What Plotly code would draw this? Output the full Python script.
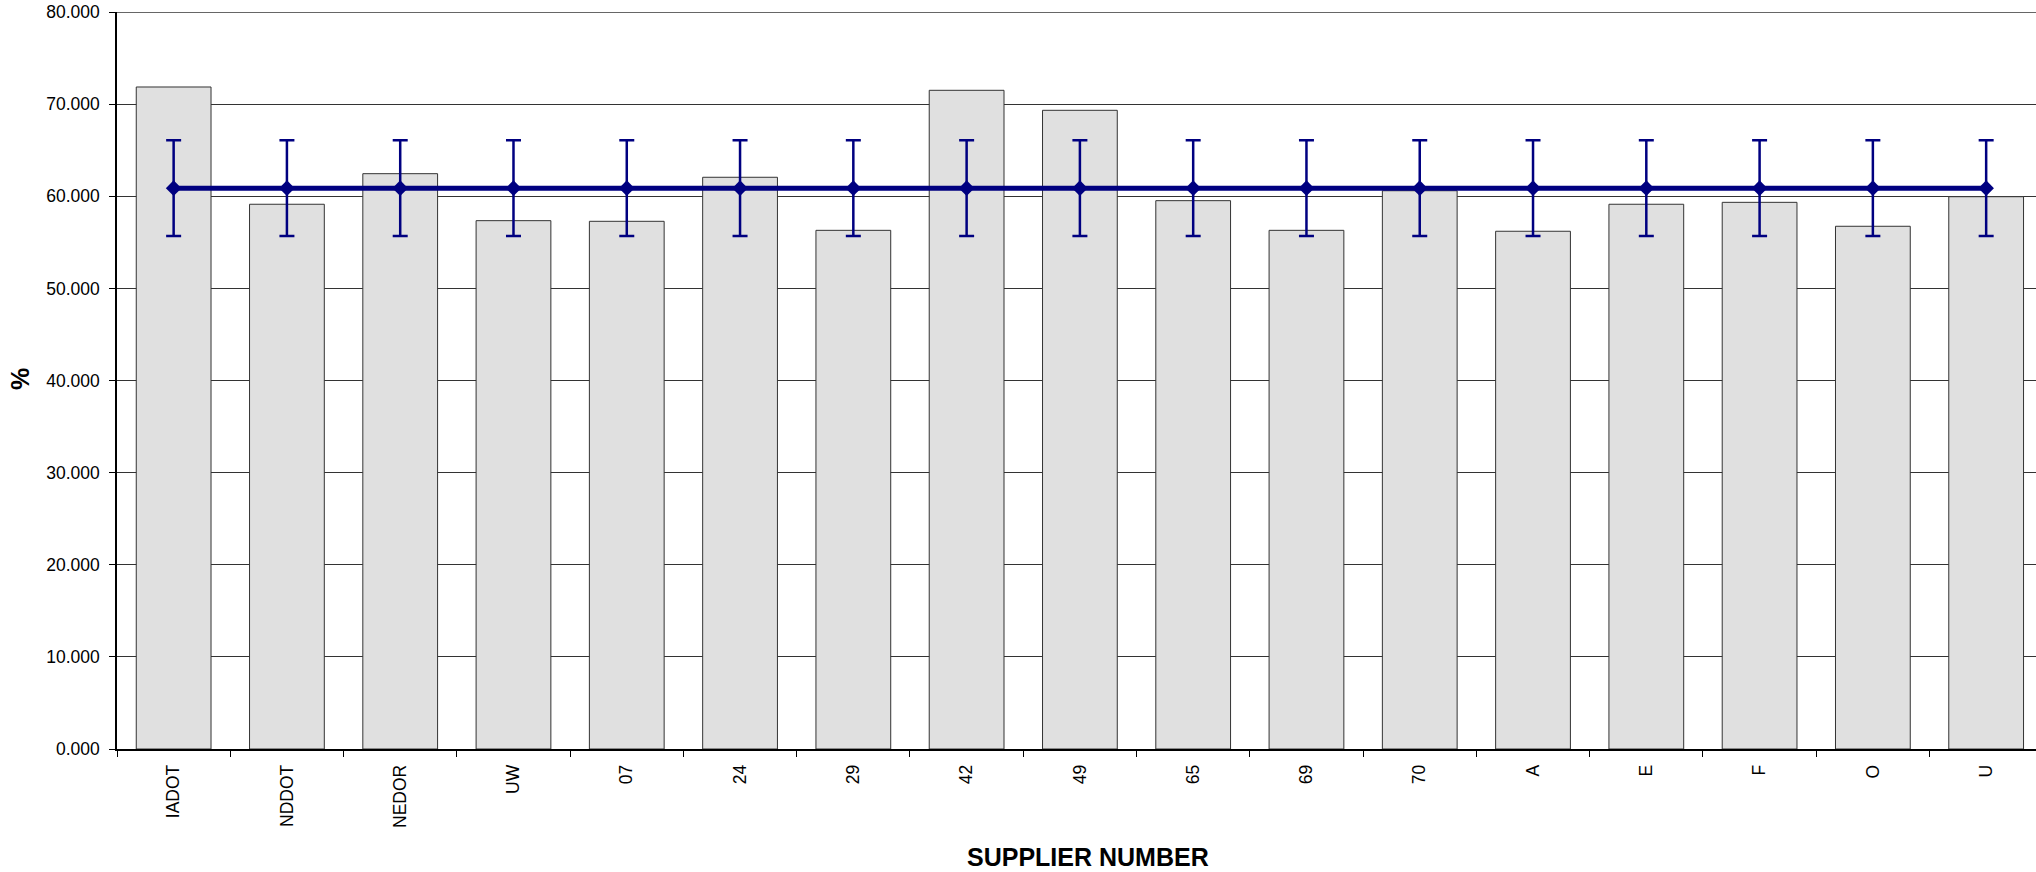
import plotly.graph_objects as go

suppliers = ["IADOT", "NDDOT", "NEDOR", "UW", "07", "24", "29", "42", "49",
             "65", "69", "70", "A", "E", "F", "O", "U"]
percent_values = [71.86, 59.13, 62.45, 57.35, 57.28, 62.06, 56.30, 71.50, 69.33,
                  59.52, 56.30, 60.60, 56.20, 59.13, 59.34, 56.74, 59.95]
average_values = [60.88, 60.88, 60.88, 60.88, 60.88, 60.88, 60.88, 60.88, 60.88,
                  60.88, 60.88, 60.88, 60.88, 60.88, 60.88, 60.88, 60.88]
average_error = [5.19, 5.19, 5.19, 5.19, 5.19, 5.19, 5.19, 5.19, 5.19,
                 5.19, 5.19, 5.19, 5.19, 5.19, 5.19, 5.19, 5.19]
y_ticks = [0, 10, 20, 30, 40, 50, 60, 70, 80]
y_max = 80

FONT = "Arial, Liberation Sans, sans-serif"
NAVY = "#000080"

fig = go.Figure()
fig.add_trace(go.Bar(
    x=suppliers, y=percent_values,
    marker=dict(color="#e0e0e0", line=dict(color="#333333", width=1)),
    width=0.66, showlegend=False,
))
fig.add_trace(go.Scatter(
    x=suppliers, y=average_values, mode="lines+markers",
    line=dict(color=NAVY, width=5),
    marker=dict(symbol="diamond", size=12, color=NAVY),
    error_y=dict(type="data", array=average_error, visible=True,
                 color=NAVY, thickness=2.5, width=7.5),
    showlegend=False,
))

fig.update_layout(
    width=2036, height=872,
    margin=dict(l=117, r=0, t=12, b=123, autoexpand=False),
    paper_bgcolor="white", plot_bgcolor="white",
    font=dict(family=FONT, color="black"),
)
fig.update_xaxes(
    type="category", range=[-0.5, 16.44], automargin=False,
    showline=True, linecolor="black", linewidth=1.5,
    ticks="outside", tickson="boundaries", ticklen=6, tickcolor="black",
    tickangle=-90, tickfont=dict(size=17.5, family=FONT),
    ticklabelstandoff=7, ticklabeloverflow="allow",
    showgrid=False,
)
fig.update_yaxes(
    range=[0, y_max], tickvals=y_ticks, tickformat=".3f", automargin=False,
    showline=True, linecolor="black", linewidth=1.5,
    ticks="outside", ticklen=6, tickcolor="black",
    tickfont=dict(size=17.5, family=FONT),
    ticklabelstandoff=6, ticklabeloverflow="allow",
    showgrid=True, gridcolor="#333333", gridwidth=1,
    zeroline=False,
)
# top gridline at the axis maximum
fig.add_shape(type="line", xref="paper", yref="y", x0=0, x1=1, y0=y_max, y1=y_max,
              line=dict(color="#333333", width=1.5), layer="above")
fig.add_annotation(text="<b>SUPPLIER NUMBER</b>", xref="paper", yref="paper",
                   x=0.506, y=-0.1465, xanchor="center", yanchor="middle",
                   showarrow=False, font=dict(size=25, family=FONT))
fig.add_annotation(text="<b>%</b>", xref="paper", yref="paper",
                   x=-0.0505, y=0.502, xanchor="center", yanchor="middle",
                   textangle=-90, showarrow=False, font=dict(size=25, family=FONT))

# remove the default page margin so the figure fills the window exactly
fig.write_html("out.html", config={"displayModeBar": False},
               post_script="document.body.style.margin='0';document.body.style.overflow='hidden';")
